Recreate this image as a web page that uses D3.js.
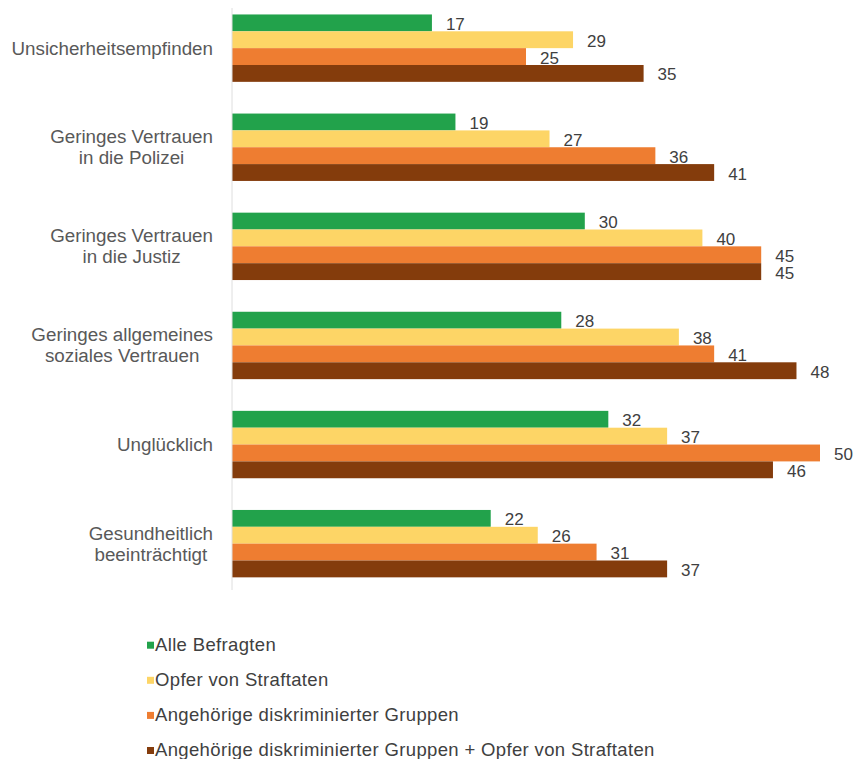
<!DOCTYPE html>
<html>
<head>
<meta charset="utf-8">
<script src="https://cdn.jsdelivr.net/npm/d3@7"></script>
<style>
  html, body { margin: 0; padding: 0; background: #fff; }
  svg { display: block; font-family: "Liberation Sans", Arial, sans-serif; }
</style>
</head>
<body>
<svg id="chart" width="854" height="759"></svg>
<script>
// Categories (each may span several lines)
const categories = [
  ["Unsicherheitsempfinden"],
  ["Geringes Vertrauen", "in die Polizei"],
  ["Geringes Vertrauen", "in die Justiz"],
  ["Geringes allgemeines", "soziales Vertrauen"],
  ["Unglücklich"],
  ["Gesundheitlich", "beeinträchtigt"]
];
const seriesNames = [
  "Alle Befragten",
  "Opfer von Straftaten",
  "Angehörige diskriminierter Gruppen",
  "Angehörige diskriminierter Gruppen + Opfer von Straftaten"
];
// Values per series, in category order
const alleBefragten      = [17, 19, 30, 28, 32, 22];
const opferStraftaten    = [29, 27, 40, 38, 37, 26];
const diskriminiert      = [25, 36, 45, 41, 50, 31];
const diskriminiertOpfer = [35, 41, 45, 48, 46, 37];
const seriesValues = [alleBefragten, opferStraftaten, diskriminiert, diskriminiertOpfer];
const colors = ["#22a24b", "#fdd566", "#ee7d31", "#843c0c"];

const svg = d3.select("#chart");
const catKeys = categories.map((c, i) => i);

const x = d3.scaleLinear().domain([0, 50]).range([232, 820]);
const y = d3.scaleBand().domain(catKeys).range([-1.4, 593.2])
  .paddingInner(0.32).paddingOuter(0.16);
const ySub = d3.scaleBand().domain(d3.range(seriesNames.length)).range([0, y.bandwidth()]);

// Bars and value labels
const groups = svg.selectAll("g.cat").data(catKeys).join("g")
  .attr("class", "cat")
  .attr("transform", d => `translate(0,${y(d)})`);

groups.each(function (ci) {
  const g = d3.select(this);
  const rows = seriesValues.map((vals, si) => ({ si, v: vals[ci] }));
  g.selectAll("rect").data(rows).join("rect")
    .attr("x", x(0))
    .attr("y", d => ySub(d.si))
    .attr("width", d => x(d.v) - x(0))
    .attr("height", ySub.bandwidth())
    .attr("fill", d => colors[d.si]);
  g.selectAll("text.val").data(rows).join("text")
    .attr("class", "val")
    .attr("x", d => x(d.v) + 14)
    .attr("y", d => ySub(d.si) + ySub.bandwidth() / 2 + 7)
    .attr("font-size", 17)
    .attr("fill", "#404040")
    .text(d => d.v);
});

// Category axis line
svg.append("line")
  .attr("x1", x(0)).attr("x2", x(0))
  .attr("y1", 8).attr("y2", 590)
  .attr("stroke", "#dedede").attr("stroke-width", 1);

// Category labels: lines centred on each other, block right-aligned
const labelRight = 213;
const lineH = 21;
catKeys.forEach(ci => {
  const lines = categories[ci];
  const cy = y(ci) + y.bandwidth() / 2;
  const t = svg.append("g");
  const texts = lines.map((ln, li) => t.append("text")
    .attr("font-size", 18.8)
    .attr("fill", "#595959")
    .attr("text-anchor", "middle")
    .attr("y", cy + 6.5 + (li - (lines.length - 1) / 2) * lineH)
    .text(ln));
  const maxW = d3.max(texts, tx => tx.node().getComputedTextLength());
  texts.forEach(tx => tx.attr("x", labelRight - maxW / 2));
});

// Legend
const legend = svg.append("g");
seriesNames.forEach((name, si) => {
  const base = 650.7 + si * 35.1;
  legend.append("rect")
    .attr("x", 147).attr("y", base - 9).attr("width", 7).attr("height", 7)
    .attr("fill", colors[si]);
  legend.append("text")
    .attr("x", 155).attr("y", base)
    .attr("font-size", 18.5)
    .attr("letter-spacing", 0.35)
    .attr("fill", "#404040")
    .text(name);
});
</script>
</body>
</html>
